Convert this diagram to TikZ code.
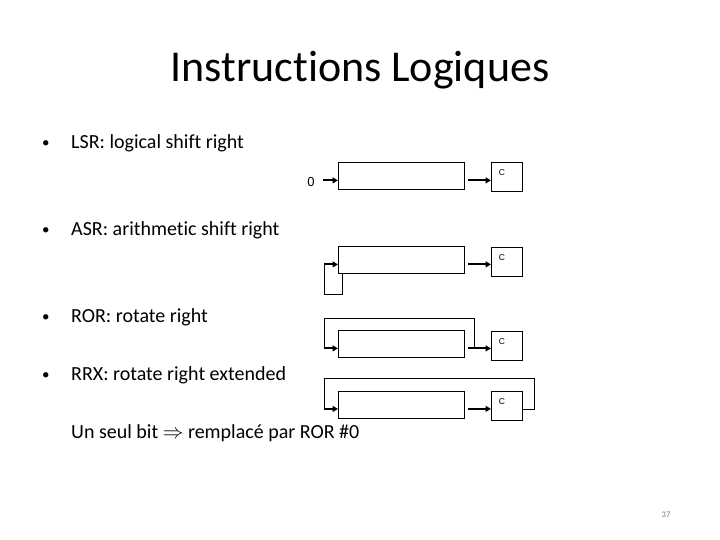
\documentclass[tikz,border=0pt]{standalone}
\usepackage{fontspec}
\setmainfont{Carlito}[Ligatures={NoCommon}]
\newfontfamily\regfont{Liberation Sans}
\usetikzlibrary{arrows.meta}
\definecolor{pageGray}{RGB}{120,120,120}

\tikzset{
  reg/.style={draw,line width=0.8pt,minimum width=126pt,minimum height=27pt,inner sep=0pt,anchor=north west},
  carrybox/.style={draw,line width=0.8pt,minimum width=31pt,minimum height=29pt,inner sep=0pt,anchor=north west},
  bitlabel/.style={font=\regfont\fontsize{8.5}{10}\selectfont,inner sep=0pt},
  shiftarrow/.style={line width=2pt,-{Triangle[length=5.5pt,width=6pt]}},
  loopline/.style={line width=0.8pt,line join=miter},
  item/.style={anchor=base west,inner sep=0pt,font=\fontsize{20}{24}\selectfont},
  dot/.style={anchor=base west,inner sep=0pt,font=\fontsize{15}{18}\selectfont}
}

\begin{document}
\begin{tikzpicture}[x=1pt,y=-1pt]
\useasboundingbox (0,0) rectangle (720,540);

% title
\node[anchor=base,inner sep=0pt,font=\fontsize{44}{52}\selectfont] (title) at (360,82) {Instructions Logiques};

% bullet items
\node[dot] (b1) at (42,148) {•};
\node[item] (lsr) at (71,149) {LSR: logical shift right};
\node[dot] (b2) at (42,235) {•};
\node[item] (asr) at (71,236) {ASR: arithmetic shift right};
\node[dot] (b3) at (42,321) {•};
\node[item] (ror) at (71,322) {ROR: rotate right};
\node[dot] (b4) at (42,379) {•};
\node[item] (rrx) at (71,380) {RRX: rotate right extended};
\node[item] (note) at (71,438) {Un seul bit $\Rightarrow$ remplacé par ROR \#0};

% LSR
\node[reg] (reg1) at (338,162) {};
\node[carrybox] (c1) at (491,162) {};
\node[bitlabel] (cl1) at ([shift={(11,11)}]c1.north west) {C};
\coordinate (out1) at ([yshift=-4.5pt]reg1.east);
\node[font=\regfont\fontsize{13}{15}\selectfont,inner sep=0pt] (zero) at (311,182) {0};
\draw[shiftarrow] ([xshift=8pt]zero.east |- out1) -- (out1 -| reg1.west);
\draw[shiftarrow] ([xshift=3.5pt]out1) -- (out1 -| c1.west);

% ASR
\node[reg] (reg2) at (338,246) {};
\node[carrybox] (c2) at (491,246.5) {};
\node[bitlabel] (cl2) at ([shift={(11,11)}]c2.north west) {C};
\coordinate (out2) at ([yshift=-4.5pt]reg2.east);
\coordinate (in2) at ([yshift=-4.5pt]reg2.west);
\draw[shiftarrow] ([xshift=3.5pt]out2) -- (out2 -| c2.west);
\draw[loopline] ([xshift=4.5pt]reg2.south west) -- ++(0,21) -| ([xshift=-14pt]in2);
\draw[shiftarrow] ([xshift=-14pt]in2) -- (in2);

% ROR
\node[reg] (reg3) at (338,330) {};
\node[carrybox] (c3) at (491,331) {};
\node[bitlabel] (cl3) at ([shift={(11,11)}]c3.north west) {C};
\coordinate (out3) at ([yshift=-4.5pt]reg3.east);
\coordinate (in3) at ([yshift=-4.5pt]reg3.west);
\draw[shiftarrow] ([xshift=3.5pt]out3) -- (out3 -| c3.west);
\draw[loopline] ([xshift=10pt]out3) -- ([xshift=10pt,yshift=12pt]reg3.north east) -| ([xshift=-14pt]in3);
\draw[shiftarrow] ([xshift=-14pt]in3) -- (in3);

% RRX
\node[reg] (reg4) at (338,390.5) {};
\node[carrybox] (c4) at (491,390.5) {};
\node[bitlabel] (cl4) at ([shift={(11,11)}]c4.north west) {C};
\coordinate (out4) at ([yshift=-4.5pt]reg4.east);
\coordinate (in4) at ([yshift=-4.5pt]reg4.west);
\coordinate (back4) at ([xshift=12pt]out4 -| c4.east);
\coordinate (top4) at ([yshift=12.5pt]reg4.north west);
\draw[shiftarrow] ([xshift=3.5pt]out4) -- (out4 -| c4.west);
\draw[loopline] (out4 -| c4.east) -- (back4) -- (back4 |- top4) -- ([xshift=-14pt]in4 |- top4) -- ([xshift=-14pt]in4);
\draw[shiftarrow] ([xshift=-14pt]in4) -- (in4);

% page number
\node[anchor=base,inner sep=0pt,text=pageGray,font=\fontsize{8.5}{10}\selectfont] (page) at (666,517) {37};
\end{tikzpicture}
\end{document}
